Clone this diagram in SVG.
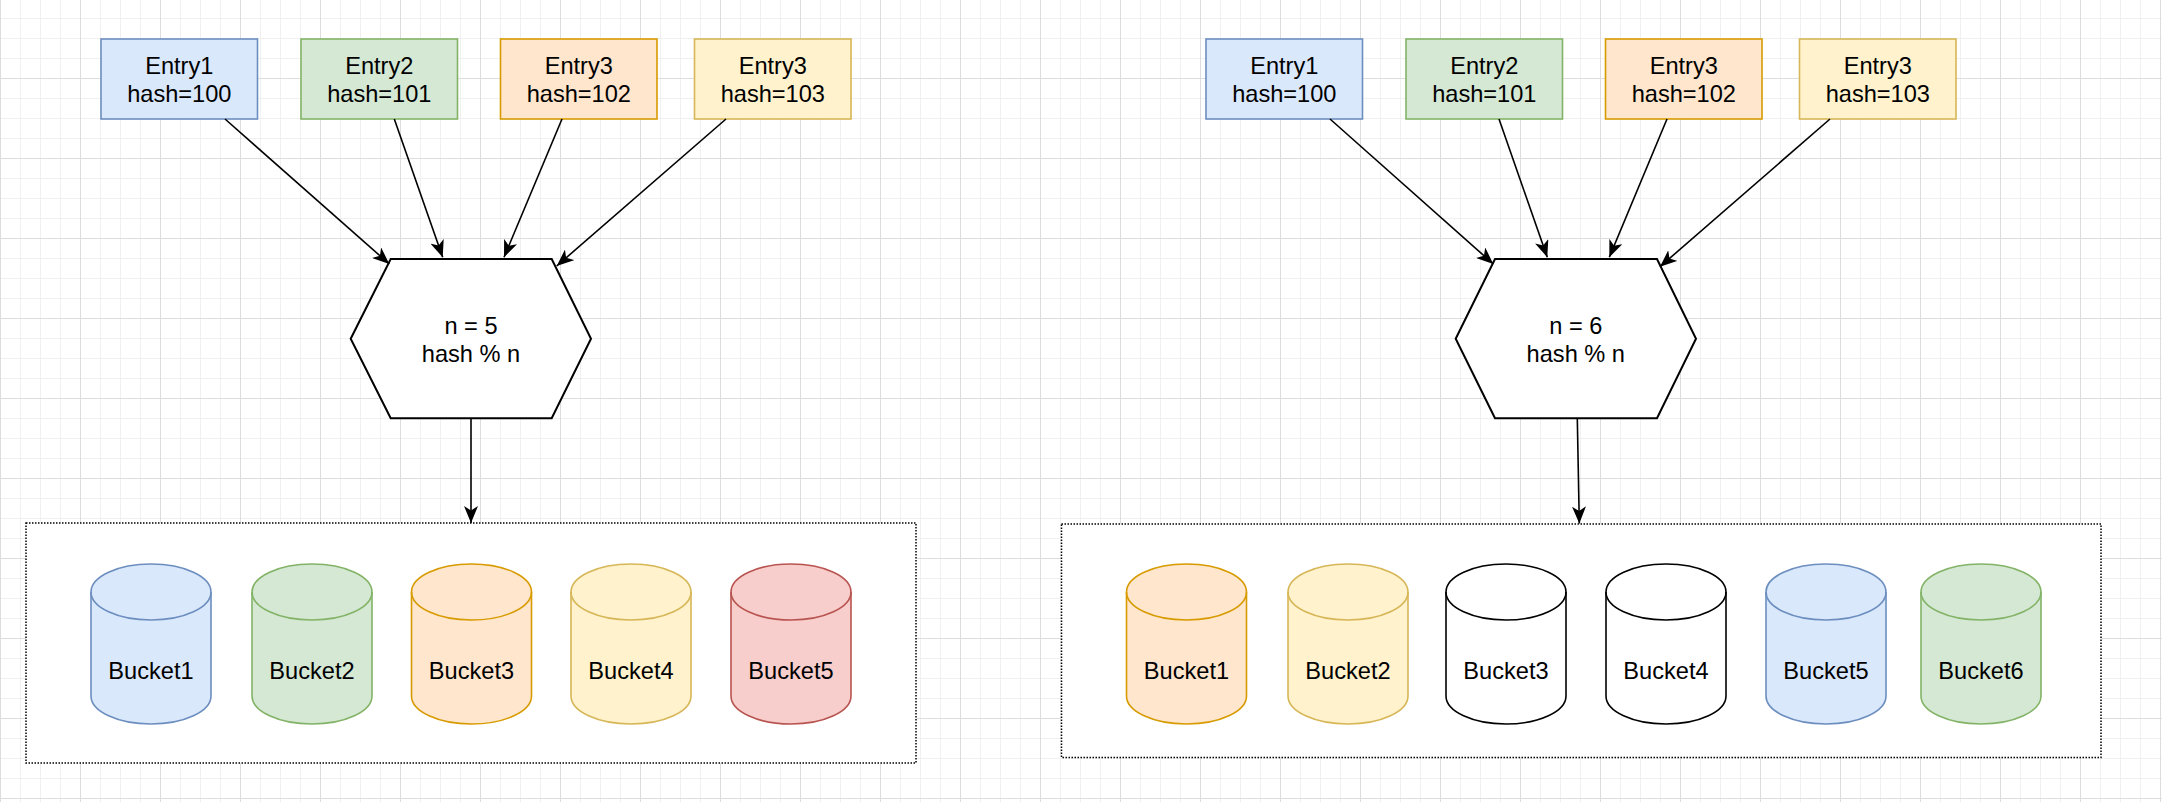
<svg xmlns="http://www.w3.org/2000/svg" width="2162" height="802" viewBox="0 0 2162 802">
<defs>
<pattern id="grid" patternUnits="userSpaceOnUse" x="0" y="-2" width="80" height="80">
<rect width="80" height="80" fill="#ffffff"/>
<path d="M20.5,0V80M40.5,0V80M60.5,0V80M0,20.5H80M0,40.5H80M0,60.5H80" stroke="#f0f0f0" stroke-width="1" fill="none"/>
<path d="M0.5,0V80M0,0.5H80" stroke="#dddddd" stroke-width="1" fill="none"/>
</pattern>
<marker id="arrow" markerUnits="userSpaceOnUse" markerWidth="17" markerHeight="14" viewBox="0 0 17 14" refX="17" refY="7" orient="auto">
<path d="M0,0 L17,7 L0,14 L4.5,7 Z" fill="#000000"/>
</marker>
<path id="cyl" d="M0,592 A60,28 0 0 1 120,592 V696 A60,28 0 0 1 0,696 Z"/>
</defs>
<style>
text{font-family:"Liberation Sans",Arial,Helvetica,sans-serif;font-size:23.6px;fill:#000000;text-anchor:middle}
.box{stroke-width:1.6}
.blue{fill:#dae8fc;stroke:#6c8ebf}
.green{fill:#d5e8d4;stroke:#82b366}
.orange{fill:#ffe6cc;stroke:#d79b00}
.yellow{fill:#fff2cc;stroke:#d6b656}
.red{fill:#f8cecc;stroke:#b85450}
.plain{fill:#ffffff;stroke:#000000}
.rim{fill:none;stroke-width:1.6}
.hex{fill:#ffffff;stroke:#000000;stroke-width:2}
.container{fill:#ffffff;stroke:#000000;stroke-width:1.5;stroke-dasharray:1.5 1.5}
.edge{fill:none;stroke:#000000;stroke-width:1.6;marker-end:url(#arrow)}
</style>
<rect width="2162" height="802" fill="url(#grid)"/>

<!-- Left diagram -->
<g id="left-container"><rect class="container" x="26" y="523" width="890" height="240"/></g>
<g id="left-entry1"><rect class="box blue" x="101" y="39" width="156.5" height="80"/><text x="179.3" y="74">Entry1</text><text x="179.3" y="101.7">hash=100</text></g>
<g id="left-entry2"><rect class="box green" x="301" y="39" width="156.5" height="80"/><text x="379.3" y="74">Entry2</text><text x="379.3" y="101.7">hash=101</text></g>
<g id="left-entry3"><rect class="box orange" x="500.5" y="39" width="156.5" height="80"/><text x="578.8" y="74">Entry3</text><text x="578.8" y="101.7">hash=102</text></g>
<g id="left-entry4"><rect class="box yellow" x="694.5" y="39" width="156.5" height="80"/><text x="772.8" y="74">Entry3</text><text x="772.8" y="101.7">hash=103</text></g>
<g id="left-hash"><polygon class="hex" points="350.7,338.7 390.7,259 551.7,259 591,338.7 551.7,418.3 390.7,418.3"/><text x="471" y="334.3">n = 5</text><text x="471" y="362.3">hash % n</text></g>
<g id="left-bucket1" transform="translate(91,0)"><use href="#cyl" class="box blue"/><path class="rim" stroke="#6c8ebf" d="M0,592 A60,28 0 0 0 120,592"/><text x="60" y="678.7">Bucket1</text></g>
<g id="left-bucket2" transform="translate(252,0)"><use href="#cyl" class="box green"/><path class="rim" stroke="#82b366" d="M0,592 A60,28 0 0 0 120,592"/><text x="60" y="678.7">Bucket2</text></g>
<g id="left-bucket3" transform="translate(411.5,0)"><use href="#cyl" class="box orange"/><path class="rim" stroke="#d79b00" d="M0,592 A60,28 0 0 0 120,592"/><text x="60" y="678.7">Bucket3</text></g>
<g id="left-bucket4" transform="translate(571,0)"><use href="#cyl" class="box yellow"/><path class="rim" stroke="#d6b656" d="M0,592 A60,28 0 0 0 120,592"/><text x="60" y="678.7">Bucket4</text></g>
<g id="left-bucket5" transform="translate(731,0)"><use href="#cyl" class="box red"/><path class="rim" stroke="#b85450" d="M0,592 A60,28 0 0 0 120,592"/><text x="60" y="678.7">Bucket5</text></g>

<!-- Right diagram -->
<g id="right-container"><rect class="container" x="1061.5" y="524" width="1039.5" height="233.5"/></g>
<g id="right-entry1"><rect class="box blue" x="1206" y="39" width="156.5" height="80"/><text x="1284.3" y="74">Entry1</text><text x="1284.3" y="101.7">hash=100</text></g>
<g id="right-entry2"><rect class="box green" x="1406" y="39" width="156.5" height="80"/><text x="1484.3" y="74">Entry2</text><text x="1484.3" y="101.7">hash=101</text></g>
<g id="right-entry3"><rect class="box orange" x="1605.5" y="39" width="156.5" height="80"/><text x="1683.8" y="74">Entry3</text><text x="1683.8" y="101.7">hash=102</text></g>
<g id="right-entry4"><rect class="box yellow" x="1799.5" y="39" width="156.5" height="80"/><text x="1877.8" y="74">Entry3</text><text x="1877.8" y="101.7">hash=103</text></g>
<g id="right-hash"><polygon class="hex" points="1455.7,338.7 1495,259 1657,259 1696,338.7 1657,418.3 1495,418.3"/><text x="1575.8" y="334.3">n = 6</text><text x="1575.8" y="362.3">hash % n</text></g>
<g id="right-bucket1" transform="translate(1126.5,0)"><use href="#cyl" class="box orange"/><path class="rim" stroke="#d79b00" d="M0,592 A60,28 0 0 0 120,592"/><text x="60" y="678.7">Bucket1</text></g>
<g id="right-bucket2" transform="translate(1288,0)"><use href="#cyl" class="box yellow"/><path class="rim" stroke="#d6b656" d="M0,592 A60,28 0 0 0 120,592"/><text x="60" y="678.7">Bucket2</text></g>
<g id="right-bucket3" transform="translate(1446,0)"><use href="#cyl" class="box plain"/><path class="rim" stroke="#000000" d="M0,592 A60,28 0 0 0 120,592"/><text x="60" y="678.7">Bucket3</text></g>
<g id="right-bucket4" transform="translate(1606,0)"><use href="#cyl" class="box plain"/><path class="rim" stroke="#000000" d="M0,592 A60,28 0 0 0 120,592"/><text x="60" y="678.7">Bucket4</text></g>
<g id="right-bucket5" transform="translate(1766,0)"><use href="#cyl" class="box blue"/><path class="rim" stroke="#6c8ebf" d="M0,592 A60,28 0 0 0 120,592"/><text x="60" y="678.7">Bucket5</text></g>
<g id="right-bucket6" transform="translate(1921,0)"><use href="#cyl" class="box green"/><path class="rim" stroke="#82b366" d="M0,592 A60,28 0 0 0 120,592"/><text x="60" y="678.7">Bucket6</text></g>

<g id="connectors">
<path class="edge" d="M225,119 L389.3,264"/>
<path class="edge" d="M394.3,119 L442.7,257.3"/>
<path class="edge" d="M562,119 L504,257.3"/>
<path class="edge" d="M726,119 L556.7,266"/>
<path class="edge" d="M471,418.3 L471,523"/>
<path class="edge" d="M1330,119 L1493.3,264"/>
<path class="edge" d="M1499,119 L1547.3,257.3"/>
<path class="edge" d="M1667,119 L1609.3,257.3"/>
<path class="edge" d="M1830,119 L1660,266.7"/>
<path class="edge" d="M1577.3,418.3 L1579.3,523.5"/>
</g>
</svg>
